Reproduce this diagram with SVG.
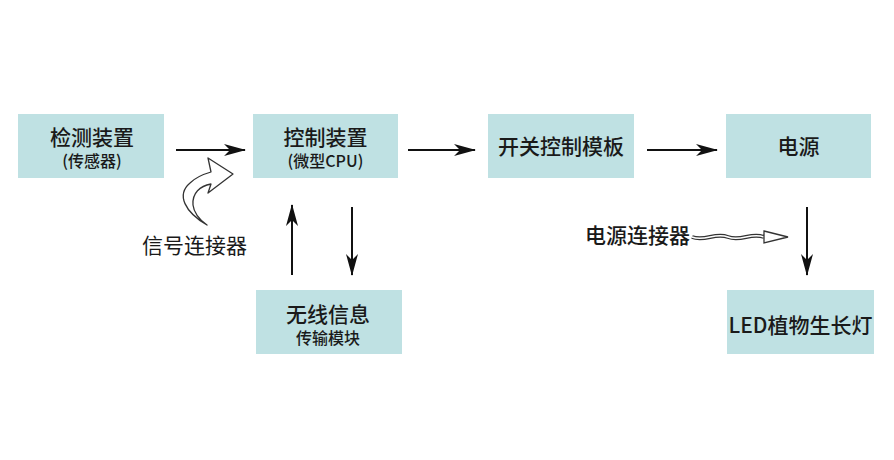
<svg xmlns="http://www.w3.org/2000/svg" width="894" height="460" viewBox="0 0 894 460">
<style>
.box{fill:#bfe1e3}
.t{font-family:"Noto Sans CJK SC","Noto Sans",sans-serif;fill:#1a1a1a;text-anchor:middle;font-weight:500}
.big{font-size:21px}
.small{font-size:16px}
.lbl{font-family:"Noto Sans CJK SC","Noto Sans",sans-serif;fill:#1a1a1a;font-size:21px}
.ln{stroke:#111;stroke-width:2;fill:none;marker-end:url(#ah)}
</style>
<defs>
<marker id="ah" viewBox="0 0 22 12" refX="21" refY="6" markerWidth="22" markerHeight="12" markerUnits="userSpaceOnUse" orient="auto">
<path d="M0,0 L22,6 L0,12 L6,6 Z" fill="#111"/>
</marker>
</defs>
<rect width="894" height="460" fill="#fff"/>
<g id="n1"><rect class="box" x="18" y="114" width="146" height="64"/>
<text class="t big" x="92" y="144.5">检测装置</text>
<text class="t small" x="92" y="167">(传感器)</text></g>
<g id="n2"><rect class="box" x="253" y="114" width="145" height="64"/>
<text class="t big" x="325.5" y="144.5">控制装置</text>
<text class="t small" x="325.5" y="167">(微型CPU)</text></g>
<g id="n3"><rect class="box" x="256" y="290" width="146" height="64"/>
<text class="t big" x="328" y="322">无线信息</text>
<text class="t small" x="328" y="344" font-size="17px">传输模块</text></g>
<g id="n4"><rect class="box" x="488" y="114" width="146" height="64"/>
<text class="t big" x="561" y="154">开关控制模板</text></g>
<g id="n5"><rect class="box" x="726" y="114" width="145" height="64"/>
<text class="t big" x="798.5" y="154">电源</text></g>
<g id="n6"><rect class="box" x="727" y="290" width="147" height="64"/>
<text class="t big" x="800.5" y="333">LED植物生长灯</text></g>
<g id="l1"><text class="lbl" x="142" y="253">信号连接器</text></g>
<g id="l2"><text class="lbl" x="585" y="243" font-weight="500">电源连接器</text></g>
<g id="connectors">
<line class="ln" x1="176" y1="150" x2="245" y2="150"/>
<line class="ln" x1="408" y1="150" x2="475" y2="150"/>
<line class="ln" x1="647" y1="150" x2="717" y2="150"/>
<line class="ln" x1="292" y1="275" x2="292" y2="205"/>
<line class="ln" x1="352" y1="207" x2="352" y2="275"/>
<line class="ln" x1="807" y1="207" x2="807" y2="275"/>
<path d="M207,225 C185,212 176,195 190,183 C196,177 204,174 211,172 L208,158 L233,174 L208,193 L211,184 C200,186 192,193 193,205 C194,214 200,220 207,225 Z" fill="#fff" stroke="#333" stroke-width="1.3" stroke-linejoin="round"/>
<path d="M692,237 C705,242 715,232 728,237 C741,242 751,232 764,237" fill="none" stroke="#333" stroke-width="4"/>
<path d="M692,237 C705,242 715,232 728,237 C741,242 751,232 764,237" fill="none" stroke="#fff" stroke-width="1.6"/>
<path d="M764,231 L788,237 L764,243 Z" fill="#fff" stroke="#333" stroke-width="1.3"/>
</g>
</svg>
